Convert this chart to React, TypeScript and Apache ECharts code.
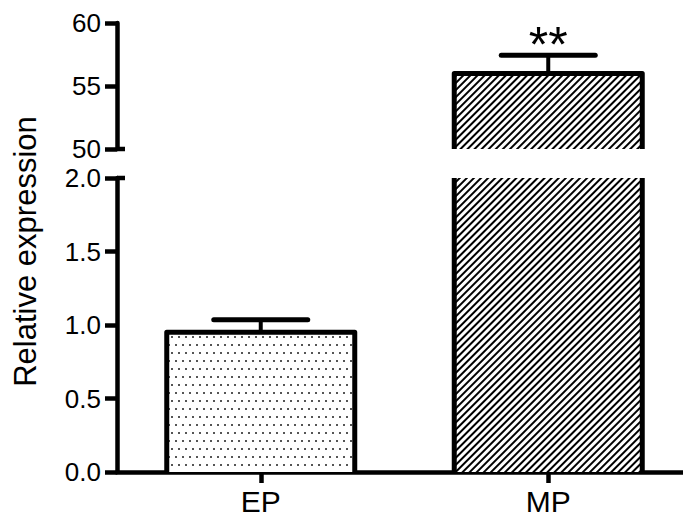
import React, { useEffect, useRef } from 'react';
import * as echarts from 'echarts';

// ---- data ----
const categories = ['EP', 'MP'];
const means = [0.95, 56.0];
const errors = [0.085, 1.45];
const marks = ['', '**'];
const lowerTicks = [0, 0.5, 1.0, 1.5, 2.0];
const upperTicks = [50, 55, 60];
const yTitle = 'Relative expression';

// ---- styles ----
const FONT = 'Arial, "Liberation Sans", sans-serif';
const BAR_W = 188;
const CAP_HALF = 47;
const GRID_LEFT = 117;
const GRID_RIGHT = -9;
const AXIS_W = 4.5;

export default function App() {
  const ref = useRef<HTMLDivElement>(null);

  useEffect(() => {
    const chart = echarts.init(ref.current!, null, { renderer: 'svg' });
    const lowerMin = lowerTicks[0];
    const lowerMax = lowerTicks[lowerTicks.length - 1];
    const lowerStep = lowerTicks[1] - lowerTicks[0];
    const upperMin = upperTicks[0];
    const upperMax = upperTicks[upperTicks.length - 1];
    const upperStep = upperTicks[1] - upperTicks[0];

    const decals: any[] = [
      {
        symbol: 'rect',
        symbolSize: 1,
        color: '#555',
        dashArrayX: [[2, 5], [0, 3, 2, 2]],
        dashArrayY: [2, 6],
        rotation: 0,
      },
      {
        symbol: 'rect',
        symbolSize: 1,
        color: '#000',
        dashArrayX: [1, 0],
        dashArrayY: [2, 3],
        rotation: -Math.PI / 4,
      },
    ];

    const isUpper = means.map((v) => v > lowerMax);

    const barData = (upper: boolean) =>
      means.map((v, i) =>
        upper && !isUpper[i]
          ? '-'
          : { value: v, itemStyle: { decal: decals[i] } }
      );

    const makeRender = (upper: boolean) => (params: any, api: any) => {
      const i = params.dataIndex;
      if (upper && !isUpper[i]) return null;
      const v = means[i];
      const e = errors[i];
      const c = api.coord([i, v]);
      const cx = c[0];
      const top = c[1];
      const base = api.coord([i, 0])[1];
      const half = BAR_W / 2;
      const children: any[] = [
        {
          type: 'polyline',
          shape: {
            points: [
              [cx - half, base],
              [cx - half, top],
              [cx + half, top],
              [cx + half, base],
            ],
          },
          style: { stroke: '#000', lineWidth: 5, fill: null, lineJoin: 'round' },
        },
      ];
      if (upper === isUpper[i]) {
        const errTop = api.coord([i, v + e])[1];
        children.push({
          type: 'line',
          shape: { x1: cx, y1: top, x2: cx, y2: errTop },
          style: { stroke: '#000', lineWidth: 4 },
        });
        children.push({
          type: 'line',
          shape: { x1: cx - CAP_HALF, y1: errTop, x2: cx + CAP_HALF, y2: errTop },
          style: { stroke: '#000', lineWidth: 5, lineCap: 'round' },
        });
        if (marks[i]) {
          children.push({
            type: 'text',
            x: cx,
            y: errTop - 10,
            style: {
              text: marks[i],
              fill: '#000',
              fontSize: 50,
              fontFamily: FONT,
              align: 'center',
              verticalAlign: 'middle',
            },
          });
        }
      }
      return { type: 'group', children };
    };

    const customData = means.map((v, i) => [i, v]);

    const axisFont = { color: '#000', fontFamily: FONT };

    chart.setOption({
      animation: false,
      backgroundColor: '#fff',
      grid: [
        { left: GRID_LEFT, right: GRID_RIGHT, top: 23, height: 126, outerBoundsMode: 'none' },
        { left: GRID_LEFT, right: GRID_RIGHT, top: 178, height: 294, outerBoundsMode: 'none' },
      ],
      xAxis: [
        {
          type: 'category',
          gridIndex: 0,
          data: categories,
          show: false,
        },
        {
          type: 'category',
          gridIndex: 1,
          data: categories,
          axisLine: { show: true, lineStyle: { color: '#000', width: AXIS_W } },
          axisTick: { show: true, alignWithLabel: true, length: 11, lineStyle: { color: '#000', width: AXIS_W } },
          axisLabel: { ...axisFont, fontSize: 30, margin: 14 },
          splitLine: { show: false },
        },
      ],
      yAxis: [
        {
          type: 'value',
          gridIndex: 0,
          min: upperMin,
          max: upperMax,
          interval: upperStep,
          axisLine: { show: true, lineStyle: { color: '#000', width: AXIS_W } },
          axisTick: { show: true, length: 12, lineStyle: { color: '#000', width: AXIS_W } },
          axisLabel: { ...axisFont, fontSize: 26, margin: 16 },
          splitLine: { show: false },
        },
        {
          type: 'value',
          gridIndex: 1,
          min: lowerMin,
          max: lowerMax,
          interval: lowerStep,
          axisLine: { show: true, lineStyle: { color: '#000', width: AXIS_W } },
          axisTick: { show: true, length: 12, lineStyle: { color: '#000', width: AXIS_W } },
          axisLabel: {
            ...axisFont,
            fontSize: 26,
            margin: 16,
            formatter: (val: number) => val.toFixed(1),
          },
          splitLine: { show: false },
        },
      ],
      series: [
        {
          type: 'bar',
          xAxisIndex: 0,
          yAxisIndex: 0,
          barWidth: BAR_W,
          clip: true,
          itemStyle: { color: '#fff', borderWidth: 0 },
          data: barData(true),
          z: 2,
        },
        {
          type: 'bar',
          xAxisIndex: 1,
          yAxisIndex: 1,
          barWidth: BAR_W,
          clip: true,
          itemStyle: { color: '#fff', borderWidth: 0 },
          data: barData(false),
          z: 2,
        },
        {
          type: 'custom',
          xAxisIndex: 0,
          yAxisIndex: 0,
          clip: true,
          z: 3,
          encode: { x: 0, y: 1 },
          renderItem: makeRender(true),
          data: customData,
        },
        {
          type: 'custom',
          xAxisIndex: 1,
          yAxisIndex: 1,
          clip: true,
          z: 3,
          encode: { x: 0, y: 1 },
          renderItem: makeRender(false),
          data: customData,
        },
      ],
    });

    const yUpperBreak = chart.convertToPixel({ yAxisIndex: 0 } as any, upperMin) as number;
    const yLowerBreak = chart.convertToPixel({ yAxisIndex: 1 } as any, lowerMax) as number;
    const yTop = chart.convertToPixel({ yAxisIndex: 0 } as any, upperMax) as number;
    const yBottom = chart.convertToPixel({ yAxisIndex: 1 } as any, lowerMin) as number;

    chart.setOption({
      graphic: [
        {
          type: 'line',
          shape: { x1: GRID_LEFT, y1: yUpperBreak, x2: GRID_LEFT + 8, y2: yUpperBreak },
          style: { stroke: '#000', lineWidth: AXIS_W },
          z: 10,
        },
        {
          type: 'line',
          shape: { x1: GRID_LEFT, y1: yLowerBreak, x2: GRID_LEFT + 8, y2: yLowerBreak },
          style: { stroke: '#000', lineWidth: AXIS_W },
          z: 10,
        },
        {
          type: 'text',
          x: 25,
          y: (yTop + yBottom) / 2 + 4,
          rotation: Math.PI / 2,
          style: {
            text: yTitle,
            fill: '#000',
            fontSize: 31,
            fontFamily: FONT,
            align: 'center',
            verticalAlign: 'middle',
          },
        },
      ],
    });

    return () => chart.dispose();
  }, []);

  return (
    <div
      ref={ref}
      style={{ position: 'fixed', left: 0, top: 0, width: 683, height: 516, background: '#fff' }}
    />
  );
}
